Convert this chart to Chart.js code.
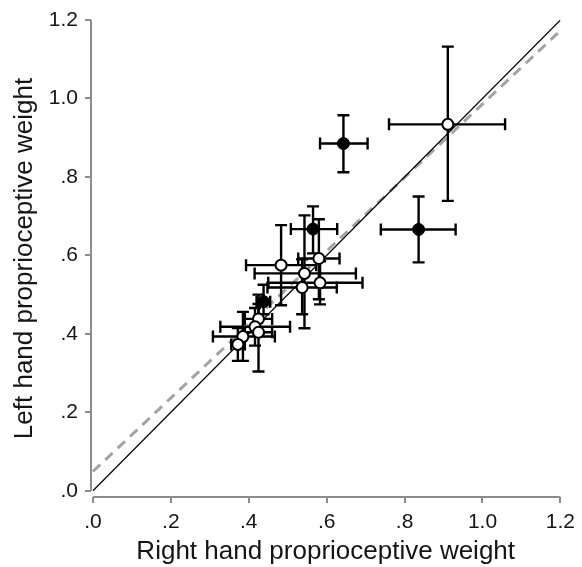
<!DOCTYPE html>
<html lang="en">
<head>
<meta charset="UTF-8">
<title>Left vs right hand proprioceptive weight</title>
<script src="https://cdn.jsdelivr.net/npm/chart.js"></script>
<style>
  html, body { margin: 0; padding: 0; background: #fff; }
</style>
</head>
<body>
<canvas id="grafica" width="582" height="567"></canvas>
<script>
// axis ticks
const tickValues = [0, 0.2, 0.4, 0.6, 0.8, 1.0, 1.2];
const tickLabels = ['.0', '.2', '.4', '.6', '.8', '1.0', '1.2'];

// open circles
const openX    = [0.911, 0.483, 0.580, 0.543, 0.583, 0.537, 0.425, 0.416, 0.425, 0.385, 0.372];
const openY    = [0.934, 0.575, 0.592, 0.554, 0.530, 0.518, 0.438, 0.418, 0.404, 0.393, 0.373];
const openXLo  = [0.760, 0.393, 0.527, 0.415, 0.450, 0.448, 0.390, 0.327, 0.390, 0.308, 0.355];
const openXHi  = [1.058, 0.573, 0.633, 0.675, 0.692, 0.626, 0.460, 0.506, 0.460, 0.467, 0.390];
const openYLo  = [0.739, 0.473, 0.488, 0.414, 0.475, 0.450, 0.400, 0.370, 0.304, 0.331, 0.331];
const openYHi  = [1.132, 0.677, 0.692, 0.702, 0.585, 0.590, 0.476, 0.466, 0.500, 0.456, 0.415];

// filled circles
const filledX   = [0.836, 0.643, 0.565, 0.438];
const filledY   = [0.666, 0.885, 0.667, 0.482];
const filledXLo = [0.739, 0.583, 0.508, 0.420];
const filledXHi = [0.931, 0.705, 0.627, 0.455];
const filledYLo = [0.582, 0.812, 0.605, 0.450];
const filledYHi = [0.750, 0.957, 0.725, 0.525];

// lines: identity (y = x) and dashed fit
const identityX = [0, 1.2];
const fitX = [0, 1.2];
const fitY = [0.049, 1.173];

const fontFamily = "'Liberation Sans', Arial, Helvetica, sans-serif";

function points(xs, ys) {
  return xs.map((x, i) => ({ x: x, y: ys[i] }));
}

const errorSets = [
  { x: openX, y: openY, xLo: openXLo, xHi: openXHi, yLo: openYLo, yHi: openYHi },
  { x: filledX, y: filledY, xLo: filledXLo, xHi: filledXHi, yLo: filledYLo, yHi: filledYHi }
];

// error bars drawn under the markers
const errorBars = {
  id: 'errorBars',
  beforeDatasetDraw(chart, args) {
    if (chart.data.datasets[args.index].label !== 'open') return;
    const ctx = chart.ctx;
    const xs = chart.scales.x, ys = chart.scales.y;
    const cap = 6;
    ctx.save();
    ctx.strokeStyle = '#000';
    ctx.lineWidth = 2.4;
    ctx.lineCap = 'butt';
    errorSets.forEach(s => {
      s.x.forEach((xv, i) => {
        const px = xs.getPixelForValue(xv), py = ys.getPixelForValue(s.y[i]);
        const x1 = xs.getPixelForValue(s.xLo[i]), x2 = xs.getPixelForValue(s.xHi[i]);
        const y1 = ys.getPixelForValue(s.yLo[i]), y2 = ys.getPixelForValue(s.yHi[i]);
        ctx.beginPath();
        ctx.moveTo(x1, py); ctx.lineTo(x2, py);
        ctx.moveTo(x1, py - cap); ctx.lineTo(x1, py + cap);
        ctx.moveTo(x2, py - cap); ctx.lineTo(x2, py + cap);
        ctx.moveTo(px, y1); ctx.lineTo(px, y2);
        ctx.moveTo(px - cap, y1); ctx.lineTo(px + cap, y1);
        ctx.moveTo(px - cap, y2); ctx.lineTo(px + cap, y2);
        ctx.stroke();
      });
    });
    ctx.restore();
  }
};

// detached gray spines from 0 to 1.2
const spines = {
  id: 'spines',
  beforeDatasetsDraw(chart) {
    const ctx = chart.ctx;
    const xs = chart.scales.x, ys = chart.scales.y;
    const first = tickValues[0], last = tickValues[tickValues.length - 1];
    ctx.save();
    ctx.strokeStyle = '#8c8c8c';
    ctx.lineWidth = 2;
    ctx.beginPath();
    ctx.moveTo(xs.left, ys.getPixelForValue(last));
    ctx.lineTo(xs.left, ys.getPixelForValue(first));
    ctx.moveTo(xs.getPixelForValue(first), ys.bottom);
    ctx.lineTo(xs.getPixelForValue(last), ys.bottom);
    ctx.stroke();
    ctx.restore();
  }
};

const axisTicks = {
  color: '#151515',
  font: { family: fontFamily, size: 21 },
  padding: 7,
  maxRotation: 0,
  autoSkip: false,
  callback: (value, index) => tickLabels[index]
};

const grid = {
  display: true,
  drawOnChartArea: false,
  drawTicks: true,
  tickLength: 6,
  color: '#8c8c8c',
  lineWidth: 2
};

new Chart(document.getElementById('grafica'), {
  type: 'scatter',
  data: {
    datasets: [
      {
        label: 'fit',
        data: points(fitX, fitY),
        showLine: true,
        borderColor: '#a3a3a3',
        borderWidth: 3,
        borderDash: [10, 7],
        pointRadius: 0,
        order: 3
      },
      {
        label: 'identity',
        data: points(identityX, identityX),
        showLine: true,
        borderColor: '#000',
        borderWidth: 1.2,
        pointRadius: 0,
        order: 2
      },
      {
        label: 'open',
        data: points(openX, openY),
        pointRadius: 5.5,
        pointBackgroundColor: '#fff',
        pointBorderColor: '#000',
        pointBorderWidth: 2,
        order: 1
      },
      {
        label: 'filled',
        data: points(filledX, filledY),
        pointRadius: 6,
        pointBackgroundColor: '#000',
        pointBorderColor: '#000',
        pointBorderWidth: 1,
        order: 0
      }
    ]
  },
  options: {
    responsive: false,
    animation: false,
    layout: { padding: { top: 20, right: 17, left: 0, bottom: 0 } },
    plugins: {
      legend: { display: false },
      tooltip: { enabled: false }
    },
    scales: {
      x: {
        type: 'linear',
        min: -0.005,
        max: 1.2,
        border: { display: false },
        grid: grid,
        ticks: axisTicks,
        afterBuildTicks: s => { s.ticks = tickValues.map(v => ({ value: v })); },
        afterFit: s => { s.height = 70; },
        title: {
          display: true,
          text: 'Right hand proprioceptive weight',
          color: '#151515',
          font: { family: fontFamily, size: 26 },
          padding: { top: 0, bottom: 0 }
        }
      },
      y: {
        type: 'linear',
        min: -0.016,
        max: 1.2,
        border: { display: false },
        grid: grid,
        ticks: axisTicks,
        afterBuildTicks: s => { s.ticks = tickValues.map(v => ({ value: v })); },
        afterFit: s => { s.width = 91; },
        title: {
          display: true,
          text: 'Left hand proprioceptive weight',
          color: '#151515',
          font: { family: fontFamily, size: 26 },
          padding: { top: 9, bottom: 0 }
        }
      }
    }
  },
  plugins: [spines, errorBars]
});
</script>
</body>
</html>
